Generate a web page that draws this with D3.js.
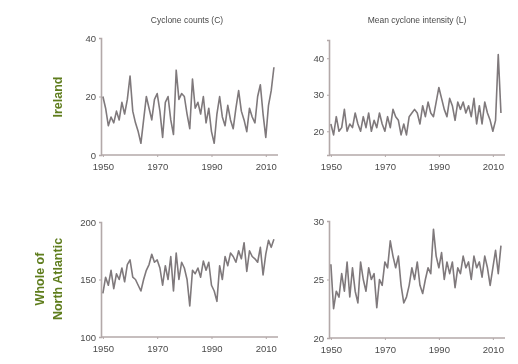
<!DOCTYPE html>
<html><head><meta charset="utf-8">
<script src="https://cdn.jsdelivr.net/npm/d3@7"></script>
<style>body{margin:0;background:#fff}svg{display:block}</style>
</head><body>
<svg id="c" width="518" height="364"></svg>
<script>
const years = d3.range(1950, 2014);
const xTicks = [1950, 1970, 1990, 2010];
const colTitles = ["Cyclone counts (C)", "Mean cyclone intensity (L)"];
const rowLabels = [["Ireland"], ["Whole of", "North Atlantic"]];

const irelandCounts = [20,16,10,13,11,15,12,18,14,19,27,15,11,8,4,12,20,16,12,19,21,15,6,18,20,12,7,29,19,21,20,14,9,26,16,18,14,20,11,16,8,4,14,20,13,10,17,12,9,16,22,15,12,8,16,13,11,20,24,14,6,17,22,30];
const irelandIntensity = [22,19,24,20,21,26,20,22,21,25,22,20,24,21,25,20,23,21,25,22,20,24,21,26,24,23,19,22,19,24,25,26,25,22,27,24,28,25,24,28,32,29,26,24,29,27,23,28,26,28,25,27,24,29,22,27,22,28,25,23,20,23,41,25];
const atlanticCounts = [138,152,145,158,142,155,150,160,148,163,167,152,150,145,140,150,158,163,172,165,167,160,145,162,150,170,140,173,150,165,160,150,127,158,155,160,152,166,158,165,145,140,131,162,150,170,162,173,170,165,175,168,182,157,175,170,168,165,178,154,172,184,178,185];
const atlanticIntensity = [26.3,22.5,24,23.5,25.5,24,26.5,23.5,26,24,23,26.5,25,24,26,25,25.5,22.6,25,24.5,26.5,26,28.3,27,26,27,24.5,23,23.5,24.5,26,25,26.5,24.5,23.8,25,26,25.5,29.3,27,26,27.3,25,26.5,25.5,26.5,24.3,26,25.5,27,26,26.5,25,27,26,26.5,25.2,27,26,24.5,26,27.5,25.5,27.9];

const yTicks1 = [0,20,40], yTicks2 = [20,30,40], yTicks3 = [100,150,200], yTicks4 = [20,25,30];

const svg = d3.select("#c");
const defs = svg.append("defs");
defs.append("filter").attr("id","soft").append("feGaussianBlur").attr("stdDeviation",0.45);
const root = svg.append("g").attr("filter","url(#soft)");

const panels = [
  {data: irelandCounts, dom:[0,40], ticks:yTicks1, x0:101, x1:278, y0:155, y1:38},
  {data: irelandIntensity, dom:[13.5,45], ticks:yTicks2, x0:329, x1:505, y0:155, y1:40},
  {data: atlanticCounts, dom:[100,200], ticks:yTicks3, x0:101, x1:278, y0:337, y1:222},
  {data: atlanticIntensity, dom:[20,30], ticks:yTicks4, x0:329, x1:505, y0:338, y1:221}
];

const axisCol = "#b3a9a9", lineCol = "#7f797b", textCol = "#4a4a4a";

panels.forEach(p => {
  const x = d3.scaleLinear().domain([1949.3, 2014.5]).range([p.x0, p.x1]);
  const y = d3.scaleLinear().domain(p.dom).range([p.y0, p.y1]);
  const g = root.append("g");
  const xa = g.append("g").attr("transform", `translate(0,${p.y0})`)
    .call(d3.axisBottom(x).tickValues(xTicks).tickFormat(d3.format("d")).tickSize(2).tickPadding(6));
  const ya = g.append("g").attr("transform", `translate(${p.x0},0)`)
    .call(d3.axisLeft(y).tickValues(p.ticks).tickSize(2).tickPadding(3));
  [xa, ya].forEach(a => {
    a.select(".domain").attr("stroke", axisCol).attr("stroke-width", 1.6);
    a.selectAll(".tick line").attr("stroke", axisCol);
    a.selectAll("text").attr("fill", textCol).style("font-family","Liberation Sans, Arial, sans-serif").style("font-size","9.5px");
  });
  xa.selectAll(".domain").attr("d", `M${p.x0},0H${p.x1}`);
  g.append("path").datum(p.data)
    .attr("fill","none").attr("stroke", lineCol).attr("stroke-width",1.6).attr("stroke-linejoin","round")
    .attr("d", d3.line().x((d,i) => x(years[i])).y(d => y(d)));
});

colTitles.forEach((t,i) => {
  root.append("text").attr("x", [187,417][i]).attr("y", 23).attr("text-anchor","middle")
    .attr("fill", textCol).style("font-family","Liberation Sans, Arial, sans-serif").style("font-size","8.5px").text(t);
});

const rowCol = "#5f7d1e";
rowLabels.forEach((lines, r) => {
  const cy = [97, 279][r];
  const n = lines.length;
  lines.forEach((l, k) => {
    const cx = n === 1 ? 62 : [44, 62][k];
    root.append("text").attr("transform", `translate(${cx},${cy}) rotate(-90)`)
      .attr("text-anchor","middle").attr("fill", rowCol)
      .style("font-family","Liberation Sans, Arial, sans-serif").style("font-size","12.5px").style("font-weight","bold")
      .text(l);
  });
});
</script>
</body></html>
